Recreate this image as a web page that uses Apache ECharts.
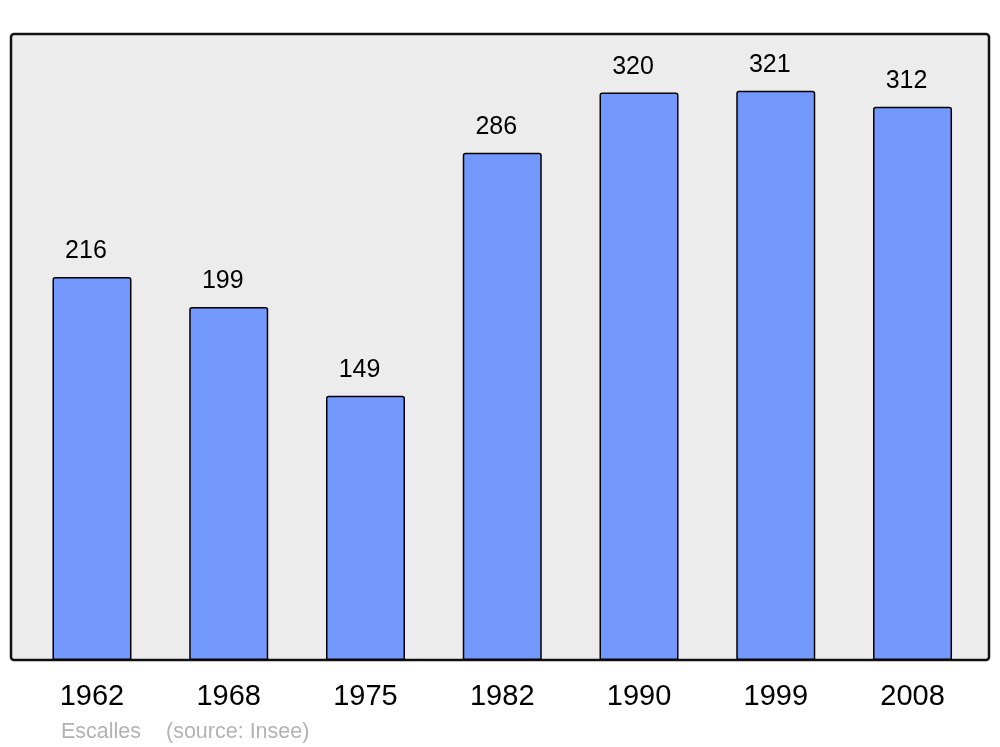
<!DOCTYPE html>
<html>
<head>
<meta charset="utf-8">
<script src="https://cdn.jsdelivr.net/npm/echarts@6/dist/echarts.min.js"></script>
<style>html,body{margin:0;padding:0;background:#fff;}#c{width:1000px;height:747px;}</style>
</head>
<body>
<div id="c"></div>
<script>
const years = ['1962', '1968', '1975', '1982', '1990', '1999', '2008'];
const population = [216, 199, 149, 286, 320, 321, 312];
const place = 'Escalles';
const source = '(source: Insee)';

const chart = echarts.init(document.getElementById('c'), null, {renderer: 'canvas'});
const FONT = '"Liberation Sans", Arial, sans-serif';
chart.setOption({
  animation: false,
  backgroundColor: '#ffffff',
  title: [
    {text: place, left: 61, top: 721, padding: 0, textStyle: {fontFamily: FONT, fontSize: 21.5, fontWeight: 'normal', color: '#b3b3b3'}},
    {text: source, left: 166, top: 721, padding: 0, textStyle: {fontFamily: FONT, fontSize: 21.5, fontWeight: 'normal', color: '#b3b3b3'}}
  ],
  graphic: [{
    type: 'rect', z: -10, silent: true,
    shape: {x: 11, y: 34, width: 978, height: 626, r: 3},
    style: {fill: '#ececec', stroke: '#111111', lineWidth: 2.5}
  }],
  grid: {left: 23.6, right: 19.1, top: 34, bottom: 87, show: false},
  xAxis: {
    type: 'category', data: years,
    axisLine: {show: false}, axisTick: {show: false},
    axisLabel: {fontFamily: FONT, fontSize: 29, color: '#000', margin: 22}
  },
  yAxis: {
    type: 'value', min: 0, max: 353,
    show: false, splitLine: {show: false}
  },
  series: [{
    type: 'bar', data: population, barWidth: 79,
    itemStyle: {color: '#7399ff', borderColor: '#000', borderWidth: 1.5, borderRadius: [2, 2, 0, 0]},
    label: {show: true, position: 'top', distance: 13, offset: [-6, 0], fontFamily: FONT, fontSize: 25, color: '#000'}
  }]
});
</script>
</body>
</html>
